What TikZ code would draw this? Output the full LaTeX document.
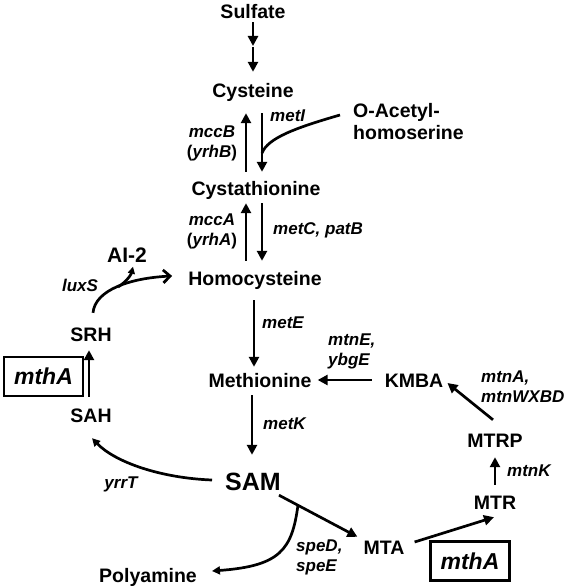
\documentclass[tikz,border=0pt]{standalone}
\usepackage{fontspec}
\setmainfont{Liberation Sans}
\usetikzlibrary{arrows.meta,calc}
\begin{document}
\begin{tikzpicture}[x=1pt,y=-1pt,
  met/.style={font=\fontsize{19.5}{22}\selectfont\bfseries, inner sep=0pt, text height=14pt, text depth=0pt},
  metm/.style={font=\fontsize{19.5}{22}\selectfont\bfseries, inner sep=0pt, align=left, anchor=north west},
  gene/.style={font=\fontsize{17}{20}\selectfont\bfseries\itshape, inner sep=0pt, text height=12pt, text depth=0pt},
  genem/.style={font=\fontsize{17}{20}\selectfont\bfseries\itshape, inner sep=0pt, align=left, anchor=north west},
  genec/.style={font=\fontsize{17}{20}\selectfont\bfseries\itshape, inner sep=0pt, align=center, anchor=north},
  arr/.style={line width=2.7pt, -{Triangle[length=10pt,width=10pt]}},
  arrs/.style={line width=2.7pt, -{Triangle[length=8pt,width=8pt]}},
  ln/.style={line width=2.7pt},
  genebox/.style={draw, line width=2.6pt, minimum width=79pt, minimum height=39pt, font=\fontsize{23}{26}\selectfont\bfseries\itshape, inner sep=0pt}
]
\useasboundingbox (0,0) rectangle (566,586);

% metabolites
\node[met] (sulf) at (253,12) {Sulfate};
\coordinate (m1) at (253,46);
\node[met] (cys) at (253,90) {Cysteine};
\node[metm] (oah) at (353,103) {O-Acetyl-\\homoserine};
\node[met] (cth) at (256,188) {Cystathionine};
\node[met] (hcy) at (255,278) {Homocysteine};
\node[met] (met) at (260,380) {Methionine};
\node[met, font=\fontsize{25}{28}\selectfont\bfseries, text height=18pt] (sam) at (253,481) {SAM};
\node[met] (poly) at (148,575) {Polyamine};
\node[met] (mta) at (384,547) {MTA};
\node[met] (mtr) at (495,502) {MTR};
\node[met] (mtrp) at (495,440) {MTRP};
\node[met] (kmba) at (414,380) {KMBA};
\node[met] (sah) at (91,415) {SAH};
\node[met] (srh) at (91,334) {SRH};
\node[met, font=\fontsize{21}{24}\selectfont\bfseries, text height=15pt] (ai2) at (127,255) {AI-2};

% gene boxes
\node[genebox] (box1) at (43.5,376.5) {mthA};
\node[genebox] (box2) at (470,561) {mthA};

% gene labels
\node[gene, anchor=west] (lmetI) at (270,115) {metI};
\node[genec] (lmccB) at (212,126) {mccB\\\textup{(}yrhB\textup{)}};
\node[genec] (lmccA) at (212,214) {mccA\\\textup{(}yrhA\textup{)}};
\node[gene, anchor=west] (lmetC) at (273,228) {metC, patB};
\node[gene] (lluxS) at (80,285) {luxS};
\node[gene, anchor=west] (lmetE) at (262,322) {metE};
\node[genem] (lmtnE) at (328,334) {mtnE,\\ybgE};
\node[genem] (lmtnA) at (481,371) {mtnA,\\mtnWXBD};
\node[gene, anchor=west] (lmetK) at (263,423) {metK};
\node[gene, anchor=west] (lmtnK) at (507,470) {mtnK};
\node[gene] (lyrrT) at (121,482) {yrrT};
\node[genem] (lspeD) at (296,540) {speD,\\speE};

% sulfate to cysteine
\draw[arr, shorten <=3pt] (sulf) -- (m1);
\draw[arr, shorten <=1pt, shorten >=11pt] (m1) -- (cys.north);

% cysteine <-> cystathionine
\draw[arr, shorten <=9pt, shorten >=16pt] ($(cth.north)+(-10,0)$) -- ($(cys.south)+(-7,0)$);
\draw[arr, shorten <=16pt, shorten >=9pt] ($(cys.south)+(9,0)$) -- ($(cth.north)+(6,0)$);
\coordinate (j1) at (262,153);
\draw[ln] ($(oah.north west)+(-13,12)$) .. controls (295,128) and (268,138) .. (j1);

% cystathionine <-> homocysteine
\draw[arr, shorten <=10pt, shorten >=8pt] ($(hcy.north)+(-9,0)$) -- ($(cth.south)+(-10,0)$);
\draw[arr, shorten <=8pt, shorten >=10pt] ($(cth.south)+(6,0)$) -- ($(hcy.north)+(7,0)$);

% homocysteine -> methionine -> SAM
\draw[arr, shorten <=15pt, shorten >=6pt] ($(hcy.south)+(-1,0)$) -- ($(met.north)+(-6,0)$);
\draw[arr, shorten <=8pt, shorten >=17pt] ($(met.south)+(-8,0)$) -- ($(sam.north)+(-1,0)$);

% recycling
\draw[arr, shorten <=13pt, shorten >=6pt] (kmba.west) -- (met.east);
\draw[arr] ($(mtrp.north)+(-2,-13)$) -- ($(kmba.east)+(4,3)$);
\draw[arr, shorten <=10pt, shorten >=10pt] (mtr.north) -- (mtrp.south);
\draw[arr] ($(mta.east)+(10,-5)$) -- ($(mtr.south)+(-1,8)$);
\draw[arr] ($(sam.south east)+(-2,5)$) -- ($(mta.north west)+(-6,-3)$);
\coordinate (br) at (298,505);
\draw[arrs] (br) .. controls (292,550) and (280,566) .. ($(poly.east)+(15,-4)$);

% SAM -> SAH -> SRH -> homocysteine / AI-2
\draw[arrs] ($(sam.west)+(-13,-1)$) .. controls (160,478) and (115,462) .. ($(sah.south)+(1,16)$);
\draw[arr, shorten <=11pt, shorten >=9pt] ($(sah.north)+(-2,0)$) -- ($(srh.south)+(-2,0)$);
\draw[ln, -{Straight Barb[length=7pt,width=13pt]}] ($(srh.north)+(2,-14)$) .. controls (95,290) and (130,278) .. ($(hcy.west)+(-16,-2)$);
\coordinate (br2) at (118,287);
\draw[ln, -{Triangle[length=7pt,width=7pt]}] (br2) .. controls (126,282) and (131,275) .. ($(ai2.south)+(6,4)$);
\end{tikzpicture}
\end{document}
